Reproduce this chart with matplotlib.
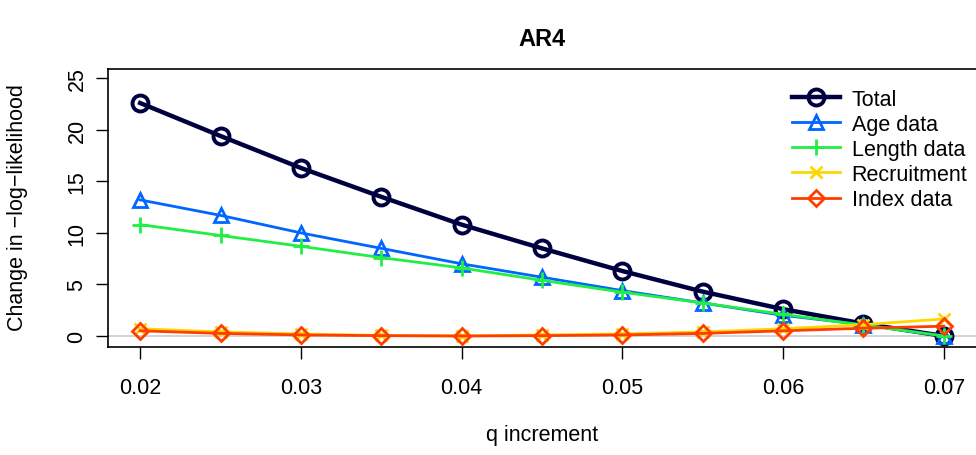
import numpy as np
import matplotlib
matplotlib.use("Agg")
import matplotlib.pyplot as plt

plt.rcParams['font.family'] = ['Liberation Sans', 'DejaVu Sans']

# q increments and change in -log-likelihood per component
q_inc = [0.020, 0.025, 0.030, 0.035, 0.040, 0.045, 0.050, 0.055, 0.060, 0.065, 0.070]
total = [22.6, 19.4, 16.3, 13.5, 10.8, 8.5, 6.3, 4.3, 2.6, 1.2, 0.0]
age = [13.2, 11.7, 10.0, 8.5, 7.0, 5.7, 4.4, 3.2, 2.0, 1.1, 0.0]
length = [10.8, 9.75, 8.7, 7.6, 6.6, 5.4, 4.25, 3.2, 2.1, 1.05, 0.0]
recruit = [0.7, 0.4, 0.2, 0.05, 0.0, 0.1, 0.2, 0.4, 0.7, 1.1, 1.65]
index = [0.5, 0.25, 0.1, 0.03, 0.0, 0.03, 0.1, 0.25, 0.5, 0.75, 0.95]

x_ticks = [0.02, 0.03, 0.04, 0.05, 0.06, 0.07]
y_ticks = [0, 5, 10, 15, 20, 25]

fs = 15.5

fig = plt.figure(figsize=(9.76, 4.56), dpi=100)
ax = fig.add_axes([108 / 976, 1 - 348 / 456, 1 - 108 / 976, (348 - 70) / 456])

ax.axhline(0, color="#cccccc", lw=1.2, zorder=1)

series = [
    (total, "#000040", "o", 3.2, 11.5, "Total"),
    (age, "#0066FF", "^", 2.0, 9.5, "Age data"),
    (length, "#22EE44", "+", 2.0, 12, "Length data"),
    (recruit, "#FFD700", "x", 2.0, 9, "Recruitment"),
    (index, "#FF3D00", "D", 2.0, 8, "Index data"),
]
for y, col, mk, lw, ms, lab in series:
    ax.plot(q_inc, y, color=col, lw=lw, marker=mk, ms=ms, mfc="none",
            mec=col, mew=2.0 if mk != "o" else 2.8, label=lab, zorder=3)

ax.set_xlim(0.018, 0.072)
ax.set_ylim(-1.07, 25.9)
ax.set_xticks(x_ticks)
ax.set_xticklabels(["%.2f" % v for v in x_ticks])
ax.set_yticks(y_ticks)
ax.set_yticklabels([str(v) for v in y_ticks], rotation=90, va="center")
ax.tick_params(direction="out", length=8.8, width=1, labelsize=fs, pad=6)
ax.tick_params(axis="x", pad=13)
for s in ax.spines.values():
    s.set_linewidth(1.2)
ax.spines["right"].set_visible(False)

fig.text((108 + 976) / 2 / 976, 1 - 436 / 456, "q increment", ha="center",
         va="center", fontsize=fs)
fig.text(18 / 976, 1 - 208 / 456, "Change in \u2212log\u2212likelihood", ha="center",
         va="center", rotation=90, fontsize=fs)
fig.text((108 + 976) / 2 / 976, 1 - 40 / 456, "AR4", ha="center", va="center",
         fontsize=17, fontweight="bold")

ax.legend(loc="upper right", bbox_to_anchor=(1.0, 0.96), frameon=False,
          fontsize=fs, handlelength=2.2, labelspacing=0.19, borderaxespad=0,
          handletextpad=0.55)

fig.savefig("out.png", dpi=100)
